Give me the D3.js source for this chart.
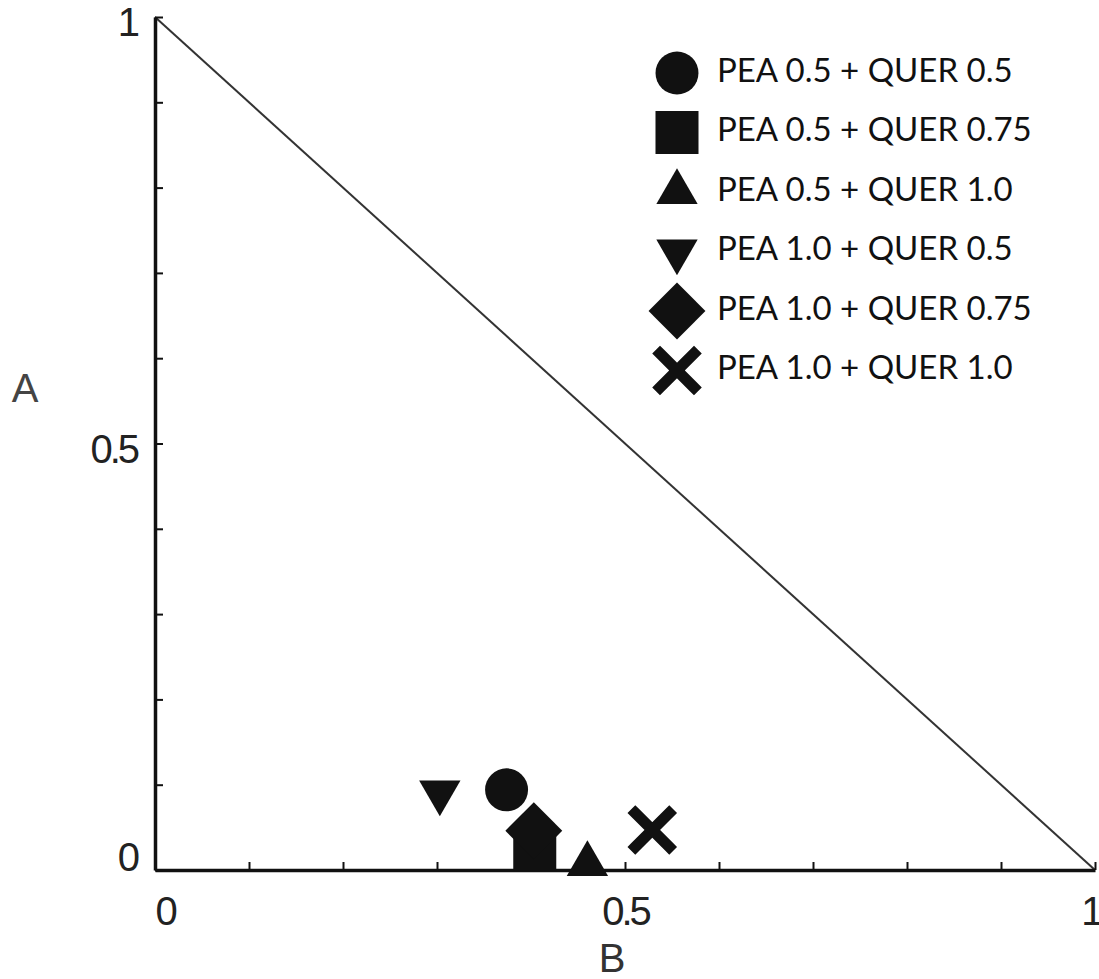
<!DOCTYPE html>
<html>
<head>
<meta charset="utf-8">
<script src="https://cdn.jsdelivr.net/npm/d3@7"></script>
<style>
  html, body { margin: 0; padding: 0; background: #fff; }
  svg { display: block; }
</style>
</head>
<body>
<svg id="chart" width="1099" height="979"></svg>
<script>
// Series labels, in legend order
const seriesLabels = [
  "PEA 0.5 + QUER 0.5",
  "PEA 0.5 + QUER 0.75",
  "PEA 0.5 + QUER 1.0",
  "PEA 1.0 + QUER 0.5",
  "PEA 1.0 + QUER 0.75",
  "PEA 1.0 + QUER 1.0"
];
// Marker shape for each series
const seriesShapes = ["circle", "square", "triangleUp", "triangleDown", "diamond", "cross"];
// B (horizontal) and A (vertical) fractions for each series
const valuesB = [0.374, 0.404, 0.460, 0.303, 0.403, 0.529];
const valuesA = [0.094, 0.025, 0.007, 0.091, 0.046, 0.047];

// Axis ticks and labelled ticks
const tickValues = [0, 0.1, 0.2, 0.3, 0.4, 0.5, 0.6, 0.7, 0.8, 0.9, 1];
const tickLabels = { 0: "0", 0.5: "0.5", 1: "1" };
const axisTitleX = "B";
const axisTitleY = "A";

const svg = d3.select("#chart");
const ink = "#111";
const tickFont = "'Liberation Sans', Arial, sans-serif";

const x = d3.scaleLinear().domain([0, 1]).range([155, 1095]);
const y = d3.scaleLinear().domain([0, 1]).range([870, 17]);

const fmt = v => tickLabels[Math.round(v * 10) / 10] ?? "";

// Boundary line A + B = 1
svg.append("line")
  .attr("x1", x(0)).attr("y1", y(1))
  .attr("x2", x(1)).attr("y2", y(0))
  .attr("stroke", "#333").attr("stroke-width", 2);

// Axes with inward ticks
const xAxis = svg.append("g")
  .attr("transform", `translate(0,${y(0)})`)
  .call(d3.axisBottom(x).tickValues(tickValues).tickFormat(fmt)
    .tickSizeInner(-8).tickSizeOuter(0).tickPadding(27));
const yAxis = svg.append("g")
  .attr("transform", `translate(${x(0)},0)`)
  .call(d3.axisLeft(y).tickValues(tickValues).tickFormat(fmt)
    .tickSizeInner(-8).tickSizeOuter(0).tickPadding(18));

[xAxis, yAxis].forEach(g => {
  g.select(".domain").attr("stroke", ink).attr("stroke-width", 3.5);
  g.selectAll(".tick line").attr("stroke", ink).attr("stroke-width", 2);
  g.selectAll(".tick text")
    .attr("fill", "#222")
    .attr("font-family", tickFont)
    .attr("font-size", 40)
    .attr("letter-spacing", "-3px");
});

// Keep the end labels inside the frame
xAxis.selectAll(".tick text")
  .attr("text-anchor", d => d === 0 ? "start" : d === 1 ? "end" : "middle")
  .attr("dx", d => d === 1 ? 5 : 0);
yAxis.selectAll(".tick text")
  .attr("dy", d => d === 0 ? "0em" : "0.32em")
  .attr("y", d => d === 0 ? 0 : 6);

// Axis titles
svg.append("text")
  .attr("x", 612).attr("y", 972)
  .attr("text-anchor", "middle")
  .attr("font-family", tickFont)
  .attr("font-size", 40).attr("fill", "#333")
  .text(axisTitleX);
svg.append("text")
  .attr("x", 25).attr("y", 402)
  .attr("text-anchor", "middle")
  .attr("font-family", tickFont)
  .attr("font-size", 40).attr("fill", "#444")
  .text(axisTitleY);

// Marker drawing
function drawMarker(g, shape) {
  switch (shape) {
    case "circle":
      g.append("path").attr("d", d3.symbol(d3.symbolCircle, 1450)()).attr("fill", ink);
      break;
    case "square":
      g.append("path").attr("d", d3.symbol(d3.symbolSquare, 1850)()).attr("fill", ink);
      break;
    case "triangleUp":
      g.append("path").attr("d", d3.symbol(d3.symbolTriangle, 740)()).attr("fill", ink);
      break;
    case "triangleDown":
      g.append("path").attr("d", d3.symbol(d3.symbolTriangle, 740)())
        .attr("transform", "rotate(180)").attr("fill", ink);
      break;
    case "diamond":
      g.append("path").attr("d", d3.symbol(d3.symbolSquare, 1620)())
        .attr("transform", "rotate(45)").attr("fill", ink);
      break;
    case "cross": {
      const r = 17;
      g.append("path")
        .attr("d", `M${-r},${-r}L${r},${r}M${-r},${r}L${r},${-r}`)
        .attr("stroke", ink).attr("stroke-width", 11).attr("stroke-linecap", "square")
        .attr("fill", "none");
      break;
    }
  }
}

// Data points
seriesShapes.forEach((shape, i) => {
  const g = svg.append("g").attr("transform", `translate(${x(valuesB[i])},${y(valuesA[i])})`);
  drawMarker(g, shape);
});

// Legend
const legend = svg.append("g").attr("transform", "translate(677,73)");
seriesLabels.forEach((label, i) => {
  const row = legend.append("g").attr("transform", `translate(0,${i * 59.5})`);
  drawMarker(row, seriesShapes[i]);
  row.append("text")
    .attr("x", 40).attr("y", 0).attr("dy", "0.26em")
    .attr("font-family", "Lato, 'Open Sans', sans-serif")
    .attr("font-size", 33).attr("fill", ink)
    .text(label);
});
</script>
</body>
</html>
